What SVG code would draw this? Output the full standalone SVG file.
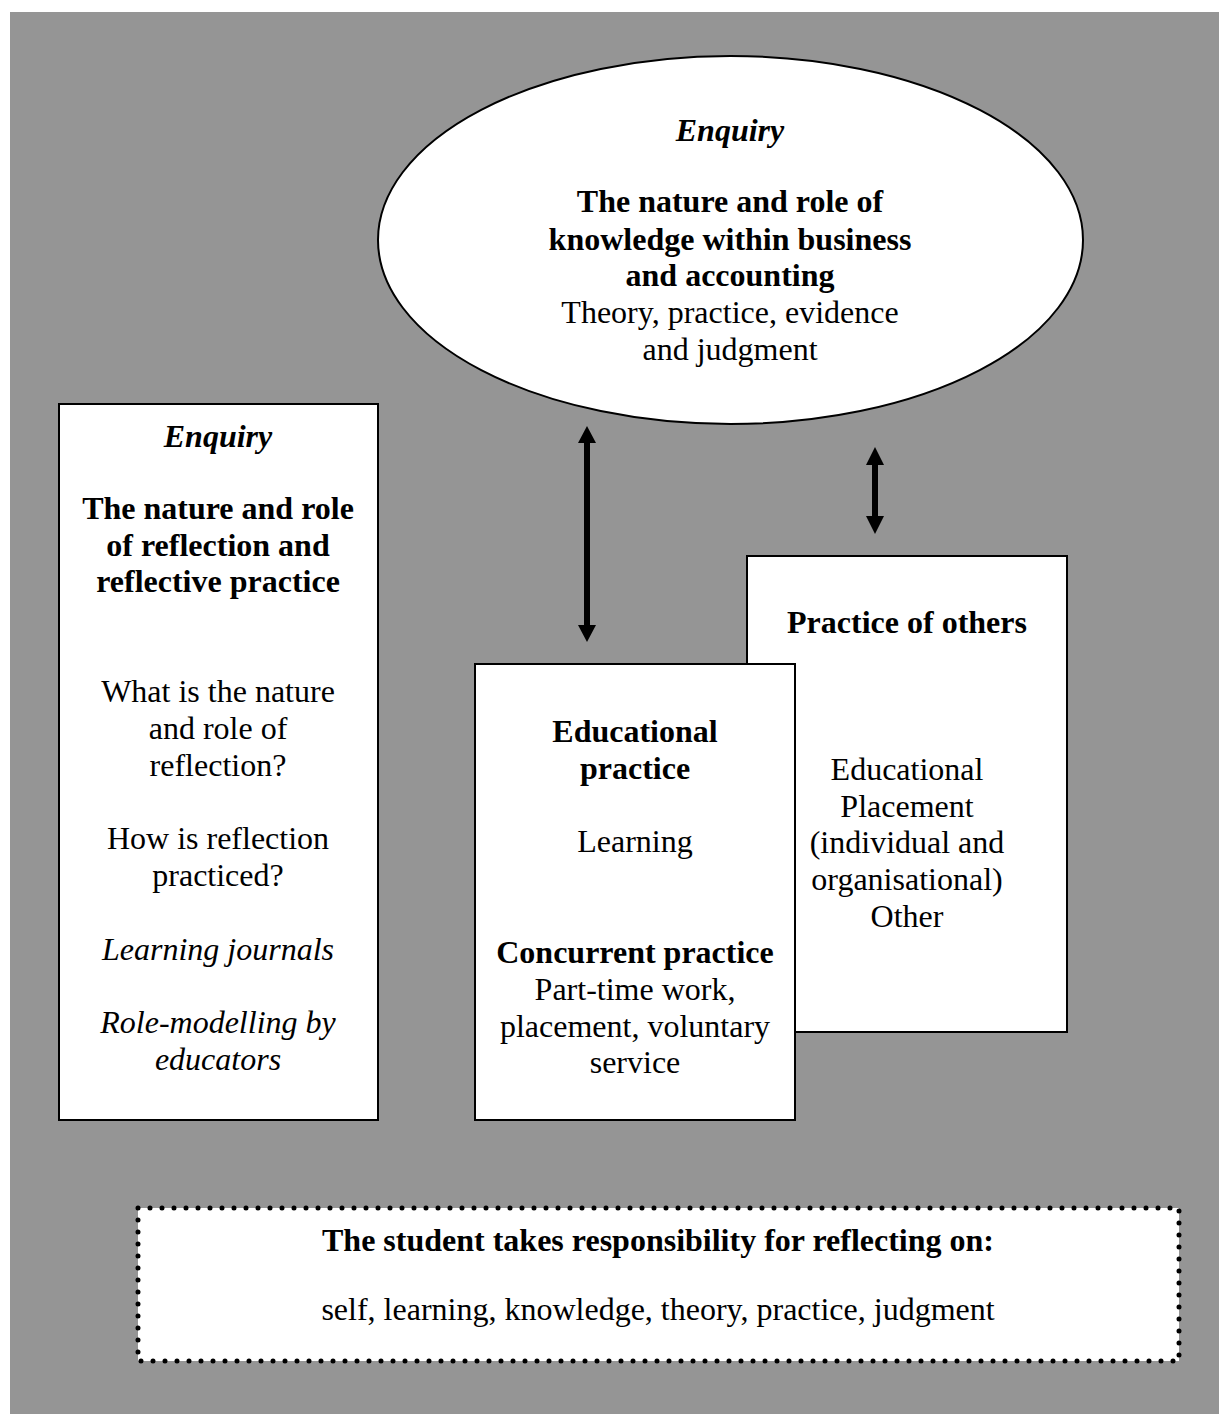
<svg xmlns="http://www.w3.org/2000/svg" width="1219" height="1414" viewBox="0 0 1219 1414">
<style>
.box{fill:#fff;stroke:#000;stroke-width:2}
text{font-family:"Liberation Serif","Times New Roman",serif;font-size:32px;fill:#000;text-anchor:middle}
.b{font-weight:bold}
.i{font-style:italic}
.bi{font-weight:bold;font-style:italic}
.arr{fill:#000}
</style>
<rect x="0" y="0" width="1219" height="1414" fill="#fff"/>
<rect x="10" y="12" width="1209" height="1402" fill="#959595"/>
<g id="node-knowledge">
<ellipse class="box" cx="730.5" cy="240" rx="352.5" ry="184"/>
<text class="bi" x="730" y="141">Enquiry</text>
<text class="b" x="730" y="212">The nature and role of</text>
<text class="b" x="730" y="250">knowledge within business</text>
<text class="b" x="730" y="286">and accounting</text>
<text x="730" y="323">Theory, practice, evidence</text>
<text x="730" y="360">and judgment</text>
</g>
<g id="node-reflection">
<rect class="box" x="59" y="404" width="319" height="716"/>
<text class="bi" x="218" y="447">Enquiry</text>
<text class="b" x="218" y="519">The nature and role</text>
<text class="b" x="218" y="556">of reflection and</text>
<text class="b" x="218" y="592">reflective practice</text>
<text x="218" y="702">What is the nature</text>
<text x="218" y="739">and role of</text>
<text x="218" y="776">reflection?</text>
<text x="218" y="849">How is reflection</text>
<text x="218" y="886">practiced?</text>
<text class="i" x="218" y="960">Learning journals</text>
<text class="i" x="218" y="1033">Role-modelling by</text>
<text class="i" x="218" y="1070">educators</text>
</g>
<g id="node-others">
<rect class="box" x="747" y="556" width="320" height="476"/>
<text class="b" x="907" y="633">Practice of others</text>
<text x="907" y="780">Educational</text>
<text x="907" y="817">Placement</text>
<text x="907" y="853">(individual and</text>
<text x="907" y="890">organisational)</text>
<text x="907" y="927">Other</text>
</g>
<g id="node-educational">
<rect class="box" x="475" y="664" width="320" height="456"/>
<text class="b" x="635" y="742">Educational</text>
<text class="b" x="635" y="779">practice</text>
<text x="635" y="852">Learning</text>
<text class="b" x="635" y="963">Concurrent practice</text>
<text x="635" y="1000">Part-time work,</text>
<text x="635" y="1037">placement, voluntary</text>
<text x="635" y="1073">service</text>
</g>
<g id="node-student">
<rect x="138" y="1208" width="1041" height="153" fill="#fff" stroke="#000" stroke-width="5" stroke-linecap="round" stroke-dasharray="0 12"/>
<text class="b" x="658" y="1251">The student takes responsibility for reflecting on:</text>
<text x="658" y="1320">self, learning, knowledge, theory, practice, judgment</text>
</g>
<g id="connectors">
<polygon class="arr" points="587,426 596,443 590,443 590,625 596,625 587,642 578,625 584,625 584,443 578,443"/>
<polygon class="arr" points="875,447 884,465 878,465 878,516 884,516 875,534 866,516 872,516 872,465 866,465"/>
</g>
</svg>
